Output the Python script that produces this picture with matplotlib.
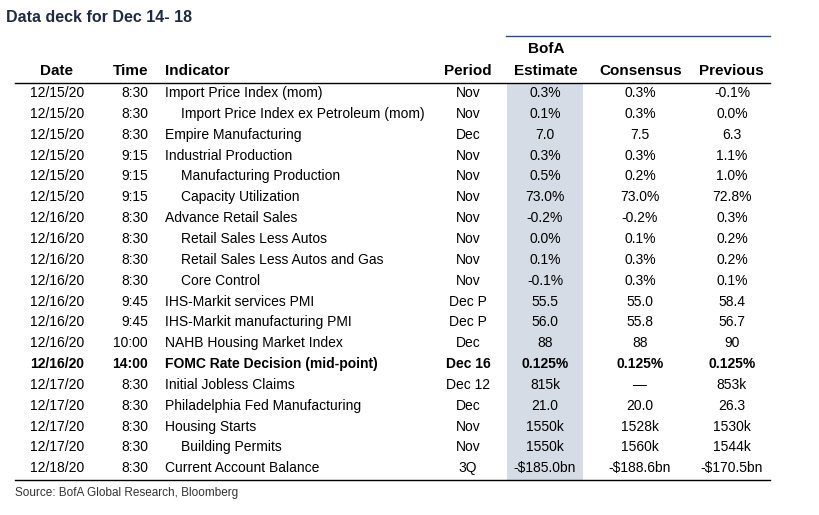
import matplotlib
matplotlib.use('Agg')
import matplotlib.pyplot as plt

dates = ['12/15/20'] * 6 + ['12/16/20'] * 8 + ['12/17/20'] * 4 + ['12/18/20']
times = ['8:30', '8:30', '8:30', '9:15', '9:15', '9:15', '8:30', '8:30', '8:30', '8:30',
         '9:45', '9:45', '10:00', '14:00', '8:30', '8:30', '8:30', '8:30', '8:30']
indicators = ['Import Price Index (mom)', 'Import Price Index ex Petroleum (mom)',
              'Empire Manufacturing', 'Industrial Production', 'Manufacturing Production',
              'Capacity Utilization', 'Advance Retail Sales', 'Retail Sales Less Autos',
              'Retail Sales Less Autos and Gas', 'Core Control', 'IHS-Markit services PMI',
              'IHS-Markit manufacturing PMI', 'NAHB Housing Market Index',
              'FOMC Rate Decision (mid-point)', 'Initial Jobless Claims',
              'Philadelphia Fed Manufacturing', 'Housing Starts', 'Building Permits',
              'Current Account Balance']
indent = [0, 1, 0, 0, 1, 1, 0, 1, 1, 1, 0, 0, 0, 0, 0, 0, 0, 1, 0]
periods = ['Nov', 'Nov', 'Dec', 'Nov', 'Nov', 'Nov', 'Nov', 'Nov', 'Nov', 'Nov',
           'Dec P', 'Dec P', 'Dec', 'Dec 16', 'Dec 12', 'Dec', 'Nov', 'Nov', '3Q']
estimates = ['0.3%', '0.1%', '7.0', '0.3%', '0.5%', '73.0%', '-0.2%', '0.0%', '0.1%', '-0.1%',
             '55.5', '56.0', '88', '0.125%', '815k', '21.0', '1550k', '1550k', '-$185.0bn']
consensus = ['0.3%', '0.3%', '7.5', '0.3%', '0.2%', '73.0%', '-0.2%', '0.1%', '0.3%', '0.3%',
             '55.0', '55.8', '88', '0.125%', '\u2014', '20.0', '1528k', '1560k', '-$188.6bn']
previous = ['-0.1%', '0.0%', '6.3', '1.1%', '1.0%', '72.8%', '0.3%', '0.2%', '0.2%', '0.1%',
            '58.4', '56.7', '90', '0.125%', '853k', '26.3', '1530k', '1544k', '-$170.5bn']
bold_row = 13

fig = plt.figure(figsize=(8.2, 5.15), dpi=100)
ax = fig.add_axes([0, 0, 1, 1])
ax.set_xlim(0, 820)
ax.set_ylim(515, 0)
ax.axis('off')

navy = '#1f2a44'
fs = 10
ax.text(6, 18, 'Data deck for Dec 14- 18', fontsize=11.5, fontweight='bold', color=navy,
        va='center', family='Liberation Sans')
ax.plot([506, 770], [36, 36], color='#2b4c8c', lw=1)

# shaded estimate column
ax.add_patch(plt.Rectangle((507, 83), 76, 397, color='#d6dce5', lw=0))

hy = 71
hdr = dict(fontsize=11, fontweight='bold', va='center', family='Liberation Sans')
ax.text(57, hy, 'Date', ha='center', **hdr)
ax.text(148, hy, 'Time', ha='right', **hdr)
ax.text(165, hy, 'Indicator', ha='left', **hdr)
ax.text(468, hy, 'Period', ha='center', **hdr)
ax.text(546, 49, 'BofA', ha='center', **hdr)
ax.text(546, hy, 'Estimate', ha='center', **hdr)
ax.text(641, hy, 'Consensus', ha='center', **hdr)
ax.text(731, hy, 'Previous', ha='center', **hdr)
ax.plot([15, 770], [82.5, 82.5], color='black', lw=1)

y0, dy = 93, 20.85
for i in range(len(dates)):
    y = y0 + i * dy
    kw = dict(fontsize=fs, va='center', family='Liberation Sans',
              fontweight='bold' if i == bold_row else 'normal')
    ax.text(57, y, dates[i], ha='center', **kw)
    ax.text(148, y, times[i], ha='right', **kw)
    ax.text(165 + 16 * indent[i], y, indicators[i], ha='left', **kw)
    ax.text(468, y, periods[i], ha='center', **kw)
    ax.text(545, y, estimates[i], ha='center', **kw)
    ax.text(640, y, consensus[i], ha='center', **kw)
    ax.text(732, y, previous[i], ha='center', **kw)

ax.plot([15, 770], [480, 480], color='black', lw=1)
ax.text(15, 493, 'Source: BofA Global Research, Bloomberg', fontsize=8.5, va='center',
        color='#333333', family='Liberation Sans')

fig.savefig('out.png', dpi=100)
